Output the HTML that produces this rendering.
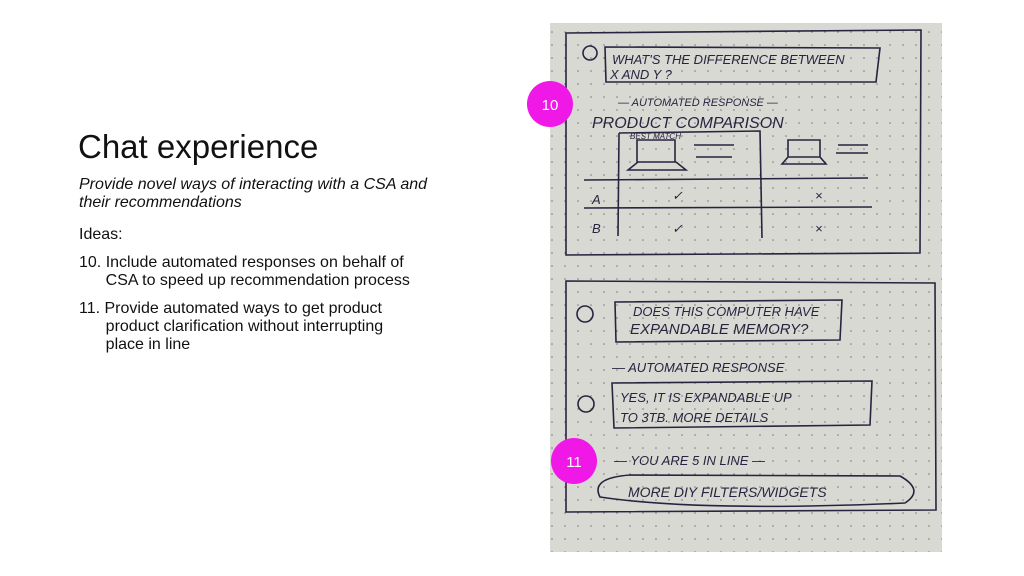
<!DOCTYPE html>
<html><head><style>
body{margin:0;width:1024px;height:576px;background:#fff;position:relative;overflow:hidden;font-family:"Liberation Sans",sans-serif;color:#111}
h1{position:absolute;left:78px;top:128px;margin:0;font-size:33px;font-weight:normal}
.t{position:absolute;left:79px;font-size:16px;line-height:18px}
</style></head><body>
<h1>Chat experience</h1>
<div class="t" style="top:176px;font-style:italic">Provide novel ways of interacting with a CSA and<br>their recommendations</div>
<div class="t" style="top:226px">Ideas:</div>
<div class="t" style="top:254px">10. Include automated responses on behalf of<br>&nbsp;&nbsp;&nbsp;&nbsp;&nbsp;&nbsp;CSA to speed up recommendation process</div>
<div class="t" style="top:300px">11. Provide automated ways to get product<br>&nbsp;&nbsp;&nbsp;&nbsp;&nbsp;&nbsp;product clarification without interrupting<br>&nbsp;&nbsp;&nbsp;&nbsp;&nbsp;&nbsp;place in line</div>
<svg width="1024" height="576" style="position:absolute;left:0;top:0" font-family="Liberation Sans, sans-serif">
<defs><pattern id="d" width="13" height="13" patternUnits="userSpaceOnUse"><circle cx="6" cy="6" r="0.8" fill="#777"/></pattern></defs>
<rect x="550" y="23" width="392" height="529" fill="#d9d9d3"/>
<rect x="550" y="23" width="392" height="529" fill="url(#d)"/>
<g fill="none" stroke="#2a2340" stroke-width="1.6">
<path d="M566 33 L921 30 L920 253 L566 255 Z"/>
<path d="M605 47 L880 48 L876 82 L606 82 Z" />
<circle cx="590" cy="53" r="7"/>
<path d="M619 133 L760 131 L762 238"/><path d="M619 133 L618 236"/>
<path d="M584 180 L868 178"/><path d="M584 208 L872 207"/>
<path d="M566 281 L935 283 L936 510 L566 512 Z"/>
<path d="M615 302 L842 300 L840 340 L616 342 Z"/>
<circle cx="585" cy="314" r="8"/><circle cx="586" cy="404" r="8"/>
<path d="M612 383 L872 381 L870 425 L614 428 Z"/>
<path d="M600 497 Q590 478 630 475 L900 476 Q925 490 905 503 Q700 512 600 497 Z"/>
<path d="M637 140 h38 v22 h-38z M628 170 l10 -8 h38 l10 8z"/>
<path d="M788 140 h32 v17 h-32z M782 164 l6 -7 h32 l6 7z"/>
<path d="M694 145 h40 M696 157 h36 M838 145 h30 M836 153 h32"/>
</g>
<g fill="#2a2340" font-size="13" font-style="italic">
<text x="612" y="64">WHAT'S THE DIFFERENCE  BETWEEN</text>
<text x="610" y="79">X  AND  Y ?</text>
<text x="618" y="106" font-size="11">— AUTOMATED RESPONSE —</text>
<text x="592" y="128" font-size="16">PRODUCT  COMPARISON</text>
<text x="630" y="139" font-size="8">BEST MATCH</text>
<text x="592" y="204">A</text><text x="592" y="233">B</text>
<text x="672" y="200">✓</text><text x="672" y="233">✓</text>
<text x="815" y="200">×</text><text x="815" y="233">×</text>
<text x="633" y="316">DOES THIS COMPUTER HAVE</text>
<text x="630" y="334" font-size="15">EXPANDABLE MEMORY?</text>
<text x="612" y="372">— AUTOMATED  RESPONSE</text>
<text x="620" y="402">YES, IT IS EXPANDABLE UP</text>
<text x="620" y="422">TO 3TB. MORE DETAILS</text>
<text x="614" y="465">— YOU ARE 5 IN LINE —</text>
<text x="628" y="497" font-size="14">MORE  DIY  FILTERS/WIDGETS</text>
</g>
<circle cx="550" cy="104" r="23" fill="#f018e6"/>
<text x="550" y="110" fill="#fff" font-size="15" text-anchor="middle">10</text>
<circle cx="574" cy="461" r="23" fill="#f018e6"/>
<text x="574" y="467" fill="#fff" font-size="15" text-anchor="middle">11</text>
</svg>
</body></html>
